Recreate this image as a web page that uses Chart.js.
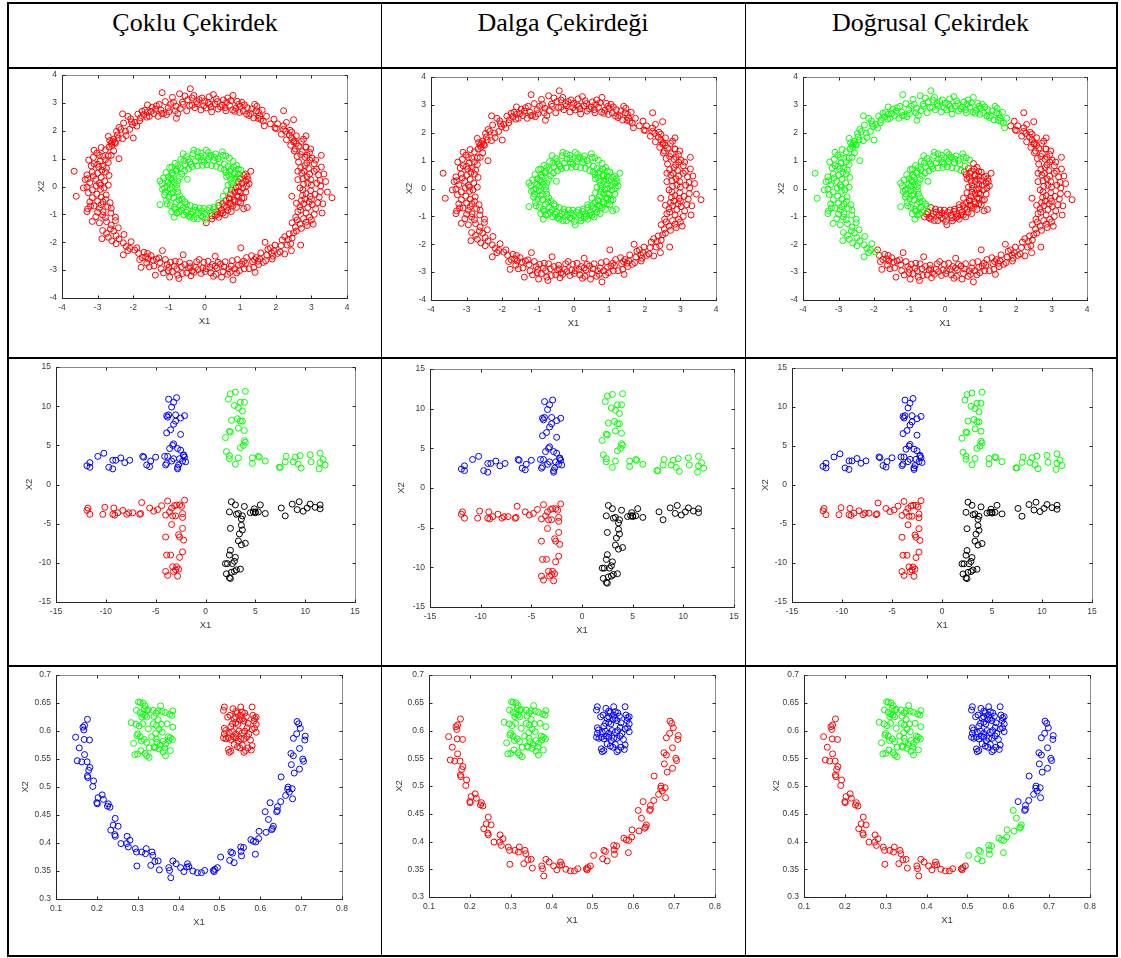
<!DOCTYPE html>
<html>
<head>
<meta charset="utf-8">
<script src="https://cdn.jsdelivr.net/npm/chart.js@4.4.1/dist/chart.umd.min.js"></script>
<style>
  html, body { margin: 0; padding: 0; background: #fff; }
  body { position: relative; width: 1121px; height: 958px; overflow: hidden; }
  .rule { position: absolute; background: #000; }
  .head { position: absolute; top: 10px; height: 30px; line-height: 26px; text-align: center;
          font-family: "Liberation Serif", "Times New Roman", serif; font-size: 26px; color: #000; }
  canvas { position: absolute; }
</style>
</head>
<body>
<script>
// ---------- column headings ----------
const columnTitles = ['Çoklu Çekirdek', 'Dalga Çekirdeği', 'Doğrusal Çekirdek'];

// ---------- tick values ----------
const ringTicks   = [-4, -3, -2, -1, 0, 1, 2, 3, 4];
const crossTicks  = [-15, -10, -5, 0, 5, 10, 15];
const smileXTicks = [0.1, 0.2, 0.3, 0.4, 0.5, 0.6, 0.7, 0.8];
const smileYTicks = [0.3, 0.35, 0.4, 0.45, 0.5, 0.55, 0.6, 0.65, 0.7];

// ---------- two concentric rings ----------
// outer ring, upper-left arc (top -> left side -> lower-left)
const outerArcA = [
  [1.74,2.52],[1.68,2.18],[1.62,2.74],
  [1.58,2.41],[1.52,2.66],[1.47,2.88],[1.55,2.53],
  [1.38,2.46],[1.33,2.79],[1.29,2.62],[1.41,2.95],
  [1.18,2.60],[1.12,2.93],[1.09,2.71],[1.20,2.83],
  [0.98,2.66],[0.92,3.06],[0.88,2.81],[0.96,2.95],
  [0.79,2.74],[0.74,3.08],[0.70,2.92],[0.80,3.27],
  [0.58,2.83],[0.53,3.11],[0.50,2.93],[0.62,3.02],
  [0.38,2.78],[0.33,3.15],[0.29,2.97],[0.36,3.05],
  [0.18,2.86],[0.13,3.22],[0.10,3.01],[0.20,2.68],
  [-0.02,2.90],[-0.07,3.18],[-0.10,2.75],[0.00,3.06],
  [-0.22,3.05],[-0.27,2.83],[-0.30,3.27],[-0.20,2.97],
  [-0.42,2.91],[-0.47,3.12],[-0.40,3.51],[-0.50,2.72],
  [-0.62,3.03],[-0.68,2.80],[-0.70,3.33],[-0.60,2.95],
  [-0.82,2.72],[-0.87,3.02],[-0.90,3.20],[-0.79,2.45],
  [-1.02,2.83],[-1.07,2.58],[-1.10,3.05],[-1.00,2.69],
  [-1.22,2.74],[-1.27,2.95],[-1.19,3.37],[-1.30,2.52],
  [-1.42,2.62],[-1.47,2.85],[-1.50,2.70],[-1.38,2.77],
  [-1.62,2.49],[-1.67,2.74],[-1.70,2.58],[-1.60,2.93],
  [-1.82,2.36],[-1.87,2.60],[-1.90,2.17],[-1.80,2.47],
  [-2.02,2.22],[-2.07,2.43],[-2.10,2.05],[-2.00,1.74],
  [-2.22,1.99],[-2.27,2.28],[-2.30,2.61],[-2.20,1.83],
  [-2.42,1.74],[-2.47,1.98],[-2.50,1.55],[-2.40,2.12],
  [-2.58,1.62],[-2.62,1.55],[-2.55,1.70],[-2.66,1.65],[-2.60,1.48],[-2.70,1.80],[-2.52,1.58],
  [-2.78,1.32],[-2.55,1.28],[-3.02,1.20],[-2.90,1.40],
  [-2.85,1.08],[-2.62,1.12],[-3.12,1.05],[-2.40,1.00],
  [-2.93,0.92],[-2.70,0.86],[-3.25,0.95],[-3.00,0.80],
  [-2.97,0.70],[-2.75,0.66],[-3.18,0.74],[-2.88,0.58],
  [-3.00,0.48],[-2.78,0.52],[-3.30,0.42],[-3.66,0.55],[-2.90,0.33],
  [-3.05,0.26],[-2.80,0.20],[-3.28,0.28],[-2.95,0.12],
  [-3.04,0.02],[-2.82,-0.05],[-3.30,-0.02],[-3.15,-0.12],[-2.70,0.05],
  [-3.02,-0.27],[-2.76,-0.30],[-3.26,-0.22],[-3.60,-0.35],[-2.90,-0.38],
  [-3.00,-0.52],[-2.78,-0.46],[-3.22,-0.55],[-2.65,-0.58],
  [-2.95,-0.78],[-2.72,-0.72],[-3.28,-0.80],[-3.10,-0.70],[-2.85,-0.90],
  [-2.86,-1.02],[-2.63,-0.95],[-3.05,-1.08],[-2.50,-1.10],
  [-2.75,-1.26],[-2.50,-1.22],[-2.95,-1.30],[-2.62,-1.38],
  [-2.64,-1.52],[-2.42,-1.48],[-2.86,-1.58],[-2.75,-1.68],
  [-2.48,-1.76],[-2.26,-1.72],[-2.70,-1.82],[-2.88,-1.87],
  [-2.28,-2.02],[-2.06,-1.98],[-2.48,-2.05],[-2.20,-2.15],
  [-2.10,-2.22],[-1.96,-2.28],[-2.28,-2.45],
  [1.65,2.35],[1.45,2.72],[1.25,2.55],[1.05,3.02],[0.85,2.70],[0.65,3.18],[0.45,2.86],[0.25,3.30],
  [0.05,2.82],[-0.15,3.12],[-0.35,2.92],[-0.55,3.25],[-0.75,2.62],[-0.95,2.95],[-1.15,2.62],[-1.35,2.90],
  [-1.55,2.52],[-1.75,2.70],[-1.95,2.30],[-2.15,2.52],[-2.35,2.05],[-2.45,1.85],
  [1.50,2.45],[1.00,2.88],[0.60,2.72],[0.15,2.95],[-0.35,3.18],[-0.80,2.88],[-1.20,2.62],[-1.60,2.66],
  [-2.05,2.32],[-2.30,1.72],
  [-2.68,1.42],[-2.95,1.12],[-2.78,0.96],[-3.10,0.82],[-2.85,0.72],[-3.15,0.52],[-2.68,0.40],[-3.22,0.14],
  [-2.92,-0.10],[-3.40,-0.05],[-2.85,-0.55],[-3.15,-0.40],[-2.62,-0.78],[-3.00,-0.92],[-2.78,-1.12],
  [-3.15,-1.25],[-2.55,-1.60],[-2.40,-1.88],[-2.60,-1.95],[-2.15,-2.30],[-3.20,-0.70],[-3.35,0.25],
  [-3.10,1.30],[-2.70,1.10],[-3.30,-0.90],[-2.92,0.05],[-3.12,0.38],[-2.90,-0.65]
];
// outer ring, lower-right arc (bottom -> right side -> upper-right)
const outerArcB = [
  [-1.85,-2.40],[-1.82,-2.62],[-1.90,-2.20],[-1.78,-2.90],
  [-1.65,-2.52],[-1.62,-2.75],[-1.70,-2.36],[-1.58,-2.60],
  [-1.45,-2.64],[-1.42,-2.85],[-1.50,-2.48],[-1.38,-3.18],
  [-1.25,-2.73],[-1.22,-2.95],[-1.28,-2.56],[-1.18,-2.30],
  [-1.05,-2.80],[-1.02,-3.02],[-1.10,-2.62],[-0.98,-3.25],
  [-0.85,-2.86],[-0.82,-2.68],[-0.90,-3.05],[-0.78,-2.95],
  [-0.65,-2.88],[-0.62,-3.12],[-0.70,-2.70],[-0.60,-2.45],[-0.72,-3.30],
  [-0.45,-2.92],[-0.42,-2.75],[-0.50,-3.10],[-0.38,-3.20],
  [-0.25,-2.90],[-0.22,-2.70],[-0.30,-3.08],[-0.18,-2.98],
  [-0.05,-2.92],[-0.02,-2.72],[-0.10,-3.12],[0.02,-3.05],
  [0.15,-2.90],[0.18,-3.10],[0.10,-2.68],[0.22,-2.80],
  [0.35,-2.92],[0.32,-3.15],[0.38,-2.72],[0.30,-2.50],
  [0.55,-2.88],[0.52,-3.05],[0.58,-2.70],[0.48,-3.25],
  [0.75,-2.85],[0.72,-3.08],[0.78,-2.66],[0.80,-3.35],[0.68,-2.95],
  [0.95,-2.83],[0.92,-2.62],[0.98,-3.02],[1.02,-2.20],
  [1.15,-2.76],[1.12,-2.95],[1.18,-2.55],[1.10,-2.68],
  [1.35,-2.70],[1.32,-2.48],[1.38,-2.90],[1.42,-3.08],
  [1.55,-2.60],[1.52,-2.80],[1.58,-2.38],[1.50,-2.68],
  [1.75,-2.46],[1.72,-2.66],[1.78,-2.25],[1.70,-2.00],
  [1.95,-2.30],[1.92,-2.50],[1.98,-2.10],[1.88,-2.38],
  [2.15,-2.12],[2.12,-2.35],[2.18,-1.92],[2.25,-2.42],
  [2.35,-1.90],[2.32,-2.10],[2.38,-1.70],[2.44,-2.30],
  [2.50,-1.66],[2.46,-1.85],[2.55,-1.45],[2.70,-2.10],
  [2.68,-1.35],[2.46,-1.30],[2.88,-1.40],[2.60,-1.20],
  [2.78,-1.15],[2.56,-1.10],[3.00,-1.20],[2.85,-1.28],
  [2.85,-0.95],[2.62,-0.90],[3.08,-1.00],[3.30,-0.95],
  [2.90,-0.75],[2.68,-0.72],[3.12,-0.80],[2.78,-0.62],
  [2.94,-0.55],[2.72,-0.50],[3.18,-0.58],[3.32,-0.62],
  [2.97,-0.35],[2.75,-0.32],[3.22,-0.38],[3.58,-0.40],[2.45,-0.35],
  [2.98,-0.15],[2.76,-0.12],[3.25,-0.18],[2.85,-0.25],
  [3.00,0.05],[2.78,0.08],[3.26,0.02],[2.62,0.25],[2.90,0.12],
  [2.98,0.25],[2.76,0.28],[3.24,0.22],[3.40,0.18],
  [2.95,0.45],[2.73,0.48],[3.20,0.42],[3.08,0.55],
  [2.92,0.65],[2.70,0.68],[3.14,0.62],[2.80,0.55],
  [2.87,0.85],[2.64,0.88],[3.08,0.82],[2.95,0.95],
  [2.82,1.05],[2.60,1.08],[3.02,1.02],[3.28,1.12],
  [2.74,1.25],[2.52,1.28],[2.95,1.22],[2.85,1.42],
  [2.64,1.45],[2.42,1.48],[2.84,1.42],[2.50,1.60],
  [2.52,1.65],[2.30,1.68],[2.72,1.62],[2.85,1.82],
  [2.38,1.85],[2.16,1.88],[2.58,1.82],[2.45,1.95],
  [2.22,2.05],[2.02,2.08],[2.40,2.02],[2.50,2.40],
  [2.05,2.25],[1.85,2.25],[2.22,2.18],[2.22,2.72],[1.95,2.42],
  [-1.75,-2.55],[-1.55,-2.88],[-1.35,-2.60],[-1.15,-3.10],[-0.95,-2.72],[-0.75,-3.18],[-0.55,-2.80],
  [-0.35,-3.02],[-0.15,-2.62],[0.05,-2.95],[0.25,-3.22],[0.45,-2.78],[0.65,-3.15],[0.85,-2.95],
  [1.05,-2.78],[1.25,-2.95],[1.45,-2.55],[1.65,-2.72],[1.85,-2.20],[2.05,-2.40],[2.25,-1.80],
  [2.42,-2.05],[2.58,-1.60],[-1.60,-2.40],[-1.00,-2.90],[-0.40,-2.88],[0.30,-2.85],[0.90,-3.10],
  [1.40,-2.62],[1.90,-2.60],
  [2.72,-1.50],[2.95,-1.10],[2.70,-0.85],[3.02,-0.65],[2.82,-0.45],[3.10,-0.28],[2.68,-0.05],
  [3.15,0.12],[2.88,0.35],[3.35,0.45],[2.82,0.75],[3.12,0.95],[2.70,1.15],[2.98,1.35],[2.58,1.55],
  [2.78,1.70],[2.45,1.75],[2.28,1.98],[2.30,2.30],[1.98,2.10],[3.45,-0.20],[3.05,-1.35],[2.58,-0.60],
  [2.62,0.55],[3.28,0.70],[3.00,-0.45],[2.88,1.12],[2.55,1.35]
];
// inner ring, upper-left half
const innerArcA = [
  [0.56,0.80],[0.70,1.02],[0.45,0.65],
  [0.42,0.89],[0.52,1.12],[0.33,0.72],[0.50,1.25],
  [0.26,0.93],[0.31,1.17],[0.20,0.75],[0.28,1.05],
  [0.09,0.97],[0.11,1.22],[0.07,0.78],[0.12,1.08],
  [-0.08,0.95],[-0.10,1.20],[-0.06,0.76],[-0.10,1.08],
  [-0.25,0.92],[-0.32,1.18],[-0.20,0.74],[-0.30,1.30],
  [-0.41,0.88],[-0.50,1.08],[-0.34,0.71],[-0.46,0.97],
  [-0.55,0.78],[-0.67,0.97],[-0.45,0.63],[-0.60,1.18],
  [-0.68,0.68],[-0.83,0.83],[-0.56,0.56],[-0.75,0.75],
  [-0.80,0.56],[-0.98,0.68],[-0.64,0.45],[-0.90,0.48],
  [-0.88,0.41],[-1.08,0.50],[-0.70,0.33],[-0.95,0.30],
  [-0.93,0.25],[-1.15,0.31],[-0.75,0.20],[-1.02,0.15],
  [-0.96,0.08],[-1.20,0.10],[-0.78,0.07],[-1.05,0.00],
  [-0.96,-0.08],[-1.18,-0.10],[-0.77,-0.07],[-1.10,-0.20],
  [-0.93,-0.25],[-1.12,-0.30],[-0.75,-0.20],[-1.00,-0.38],
  [-0.87,-0.41],[-1.07,-0.50],[-0.70,-0.33],[-1.25,-0.65],
  [-0.79,-0.56],[-0.96,-0.68],[-0.63,-0.45],[-0.85,-0.75],
  [-0.68,-0.68],[-0.82,-0.82],[-0.55,-0.55],[-0.78,-0.95],[-0.85,-1.10],
  [-0.60,-0.76],[-0.72,-0.92],[-0.50,-0.64],
  [-0.48,0.26],
  [0.38,1.00],[0.18,1.12],[-0.02,0.88],[-0.18,1.05],[-0.38,0.80],[-0.58,0.92],[-0.78,0.62],
  [-0.92,0.70],[-1.02,0.35],[-0.85,0.15],[-1.12,-0.05],[-0.88,-0.18],[-1.05,-0.62],[-0.72,-0.48],
  [-0.92,-0.90],[-0.65,-0.85],[0.60,1.10],[0.05,1.30],[-0.20,1.25],[-1.25,0.20]
];
// inner ring, lower-right half, inner side
const innerArcB = [
  [-0.48,-0.84],[-0.58,-1.02],[-0.40,-0.68],[-0.52,-0.92],
  [-0.33,-0.90],[-0.40,-1.10],[-0.27,-0.74],[-0.38,-1.00],
  [-0.17,-0.95],[-0.20,-1.15],[-0.14,-0.77],[-0.10,-1.05],
  [0.00,-0.97],[0.02,-1.18],[-0.02,-0.78],[-0.05,-1.08],
  [0.17,-0.95],[0.14,-0.77],[0.27,-0.74],[0.40,-0.58],
  [0.52,-0.35],[0.62,-0.15],[0.66,0.05],[0.77,0.00],[0.76,0.13],
  [0.91,0.33],[0.73,0.27],[0.85,0.45],
  [0.84,0.49],[1.02,0.59],[0.68,0.40],
  [0.74,0.62],[0.90,0.76],[0.60,0.50],[0.95,0.62],
  [0.66,0.72],[0.80,0.90],[0.55,0.60],
  [-0.45,-1.05],[-0.25,-0.85],[-0.08,-0.88],[0.08,-0.85],[-0.30,-1.15],[0.25,-0.82],
  [0.70,0.55],[0.82,0.70],[0.95,0.45],[0.62,0.35],[0.85,0.25]
];
// inner ring, lower-right half, outer side
const innerArcC = [
  [0.05,-1.30],[0.21,-1.16],[0.20,-1.05],
  [0.33,-0.91],[0.40,-1.10],[0.36,-1.00],
  [0.48,-0.84],[0.58,-1.02],[0.40,-0.68],[0.52,-0.95],
  [0.62,-0.74],[0.75,-0.90],[0.51,-0.61],[0.70,-0.60],
  [0.74,-0.62],[0.90,-0.75],[0.60,-0.50],[0.85,-0.55],[1.10,-0.80],
  [0.84,-0.48],[1.02,-0.58],[0.68,-0.40],[0.95,-0.35],
  [0.91,-0.33],[1.11,-0.40],[0.73,-0.27],[1.00,-0.20],
  [0.95,-0.17],[1.16,-0.20],[0.76,-0.13],[1.20,-0.75],
  [0.96,0.00],[1.18,0.02],[1.05,0.12],
  [0.95,0.17],[1.16,0.20],[1.25,0.10],
  [1.10,0.40],[1.30,0.55],[1.20,0.35],
  [0.30,-1.05],[0.45,-0.95],[0.65,-0.85],[0.80,-0.68],[0.95,-0.55],[1.05,-0.42],[0.85,-0.20],
  [1.08,-0.05],[1.00,0.28],[1.22,0.25],[0.70,-0.45],[0.55,-0.72],[1.15,0.45],[0.88,-0.05]
];

// ---------- four crosses ----------
const crossTopLeft = [
  [-11.9,2.4],[-11.6,2.8],[-11.6,2.2],[-10.8,3.6],[-10.2,4.0],[-9.7,2.2],[-9.3,2.0],[-9.3,3.1],
  [-9.0,3.1],[-8.5,3.4],[-8.1,2.8],[-7.6,3.1],[-6.3,3.6],[-6.2,3.5],[-5.9,2.5],[-5.6,2.3],
  [-5.5,3.0],[-5.0,3.5],[-4.1,3.6],[-4.0,2.5],[-3.9,2.7],[-3.8,3.6],[-3.4,3.0],
  [-3.7,10.9],[-2.9,11.1],[-3.2,10.5],[-3.4,9.9],[-3.8,8.6],[-3.9,8.8],[-3.7,8.9],[-3.0,8.9],
  [-2.5,8.5],[-2.1,8.8],[-3.2,7.7],[-3.0,8.1],[-3.5,7.0],[-3.9,6.6],[-2.5,6.4],[-3.6,4.6],
  [-3.3,5.0],[-3.2,5.2],[-2.8,4.6],[-2.5,4.4],[-2.2,3.8],[-2.1,3.5],[-2.2,3.7],[-2.3,3.0],
  [-2.0,2.9],[-2.7,2.5],[-2.8,2.2],[-2.8,2.0],[-3.2,3.3],[-2.6,3.3]
];
const crossTopRight = [
  [2.5,11.6],[3.0,11.8],[4.0,11.9],[2.3,10.9],[3.5,10.5],[3.9,10.5],[2.9,10.1],[3.3,9.8],
  [3.7,9.4],[3.2,8.4],[3.5,8.1],[2.6,8.2],[3.7,8.1],[3.3,7.2],[3.9,6.9],[2.4,6.8],
  [2.5,6.7],[2.0,6.0],[3.9,5.6],[4.0,5.4],[3.5,4.7],[3.8,5.0],[2.1,4.2],[2.4,3.7],
  [2.4,3.3],[3.3,3.4],[3.0,2.6],
  [4.7,3.4],[4.7,2.7],[5.3,3.6],[5.4,3.5],[6.0,3.0],[7.4,2.2],[7.5,2.2],[8.0,2.9],
  [8.1,3.6],[8.8,2.9],[9.0,3.5],[9.3,2.6],[9.5,3.7],[9.6,2.1],[10.5,3.8],[10.6,2.9],
  [11.5,4.0],[11.4,2.0],[11.5,2.8],[11.8,3.2],[12.0,2.5]
];
const crossBottomLeft = [
  [-11.9,-3.3],[-11.8,-3.0],[-11.6,-3.8],[-10.3,-3.8],[-10.1,-2.9],[-9.3,-3.8],[-9.2,-3.0],
  [-9.1,-3.9],[-8.8,-3.6],[-8.3,-3.3],[-7.9,-3.8],[-7.7,-3.6],[-7.3,-3.6],[-6.6,-3.8],
  [-6.5,-3.7],[-6.4,-2.3],[-5.6,-3.0],[-5.2,-3.4],[-4.8,-3.2],[-4.4,-2.7],[-4.0,-3.9],
  [-3.8,-2.1],[-3.6,-3.5],[-3.4,-3.0],[-3.3,-4.0],[-3.1,-2.7],[-2.9,-2.6],[-2.6,-2.6],
  [-2.4,-2.8],[-2.1,-2.0],[-2.3,-3.7],[-2.3,-4.2],[-3.0,-4.0],
  [-3.4,-5.1],[-2.3,-5.6],[-2.7,-6.4],[-2.6,-6.7],[-4.0,-6.7],[-2.2,-7.1],[-3.9,-9.0],
  [-3.5,-9.0],[-2.3,-8.6],[-2.6,-9.3],[-3.3,-10.5],[-2.9,-10.5],[-2.7,-10.8],[-4.0,-11.1],
  [-3.8,-11.6],[-3.2,-11.1],[-3.0,-10.9],[-2.8,-11.7]
];
const crossBottomRight = [
  [2.6,-2.2],[3.0,-2.6],[3.9,-2.8],[2.4,-3.5],[3.1,-3.8],[3.3,-3.7],[3.7,-4.0],[3.6,-4.4],
  [3.6,-5.2],[2.5,-5.6],[3.7,-5.8],[3.4,-6.3],[3.3,-7.2],[4.0,-7.5],[3.6,-7.7],[2.5,-8.4],
  [2.4,-9.0],[3.0,-9.3],[2.9,-9.8],[2.2,-10.1],[2.0,-10.1],[2.7,-10.1],[3.1,-10.9],[3.5,-10.8],
  [2.9,-11.1],[2.1,-11.4],[2.6,-11.2],[2.4,-11.9],[2.5,-12.0],
  [4.5,-3.6],[4.9,-3.1],[5.0,-3.5],[5.3,-3.5],[5.5,-2.6],[5.0,-3.6],[6.0,-3.7],[7.6,-3.0],
  [8.0,-4.0],[8.7,-2.5],[9.2,-3.2],[9.4,-2.2],[9.8,-3.4],[10.2,-3.0],[10.5,-2.5],[11.0,-2.9],
  [11.5,-3.1],[11.5,-2.6],[4.8,-3.5]
];

// ---------- smiley ----------
const mouthLeft = [
  [0.148,0.589],[0.157,0.570],[0.152,0.547],[0.163,0.545],[0.166,0.607],[0.170,0.610],[0.168,0.602],
  [0.169,0.585],[0.177,0.621],[0.182,0.584],[0.170,0.558],[0.176,0.545],[0.180,0.530],[0.183,0.535],
  [0.177,0.520],[0.178,0.517],[0.192,0.511],[0.190,0.501],[0.200,0.472],[0.201,0.470],[0.203,0.481],
  [0.213,0.486],[0.216,0.478],[0.226,0.466],[0.228,0.470],[0.232,0.464],[0.234,0.423],[0.240,0.432],
  [0.245,0.444],[0.244,0.415],[0.245,0.412],[0.252,0.430],[0.259,0.399],[0.273,0.399],[0.274,0.412],
  [0.277,0.393],[0.281,0.405],[0.294,0.390],[0.297,0.384],[0.298,0.359],[0.310,0.384],[0.321,0.390],
  [0.319,0.381],[0.335,0.384],[0.337,0.378],[0.332,0.360],[0.342,0.367],[0.350,0.368],[0.353,0.352],
  [0.376,0.356],[0.378,0.351],[0.381,0.338],[0.386,0.368],[0.394,0.363],[0.405,0.356],[0.413,0.349],
  [0.422,0.363],[0.420,0.357],[0.425,0.358],[0.435,0.350],[0.446,0.347],[0.456,0.347],[0.464,0.351],
  [0.485,0.351],[0.487,0.349],[0.489,0.353],[0.495,0.356]
];
const mouthMiddle = [
  [0.503,0.375],[0.525,0.369],[0.528,0.384],[0.532,0.382],[0.536,0.365],[0.552,0.393],[0.553,0.385],
  [0.554,0.377],[0.559,0.392],[0.577,0.406],[0.583,0.403],[0.588,0.380],[0.589,0.402],[0.596,0.408],
  [0.597,0.421],[0.614,0.419],[0.612,0.456],[0.620,0.442],[0.628,0.424],[0.632,0.430],[0.630,0.426]
];
const mouthRight = [
  [0.624,0.472],[0.640,0.456],[0.642,0.465],[0.642,0.458],[0.650,0.474],[0.651,0.518],[0.662,0.485],
  [0.667,0.496],[0.668,0.500],[0.671,0.491],[0.678,0.497],[0.679,0.479],[0.676,0.540],[0.675,0.560],
  [0.681,0.556],[0.683,0.525],[0.681,0.587],[0.689,0.595],[0.696,0.532],[0.696,0.569],[0.690,0.617],
  [0.694,0.613],[0.698,0.605],[0.704,0.550],[0.706,0.546],[0.709,0.584],[0.710,0.591]
];
const eyeLeft = [
  [0.302,0.652],[0.306,0.651],[0.313,0.650],[0.318,0.645],[0.297,0.637],[0.306,0.633],[0.316,0.640],
  [0.322,0.637],[0.326,0.638],[0.312,0.630],[0.318,0.628],[0.322,0.625],[0.310,0.625],[0.338,0.637],
  [0.345,0.632],[0.350,0.636],[0.356,0.645],[0.360,0.635],[0.368,0.633],[0.378,0.630],[0.386,0.636],
  [0.384,0.628],[0.340,0.626],[0.284,0.615],[0.296,0.612],[0.303,0.609],[0.312,0.613],[0.338,0.613],
  [0.346,0.610],[0.358,0.612],[0.372,0.613],[0.386,0.607],[0.326,0.604],[0.352,0.603],[0.360,0.598],
  [0.344,0.596],[0.300,0.595],[0.306,0.590],[0.298,0.592],[0.316,0.585],[0.322,0.580],[0.309,0.582],
  [0.290,0.578],[0.345,0.586],[0.347,0.580],[0.355,0.575],[0.362,0.582],[0.368,0.577],[0.375,0.590],
  [0.380,0.588],[0.385,0.585],[0.376,0.583],[0.328,0.570],[0.340,0.572],[0.352,0.568],[0.362,0.563],
  [0.366,0.570],[0.380,0.565],[0.293,0.558],[0.300,0.559],[0.308,0.565],[0.318,0.560],[0.322,0.556],
  [0.328,0.553],[0.368,0.556],[0.342,0.570],[0.334,0.590],[0.350,0.620]
];
const eyeRight = [
  [0.512,0.643],[0.510,0.637],[0.520,0.625],[0.526,0.628],[0.533,0.640],[0.540,0.635],[0.544,0.632],
  [0.552,0.643],[0.556,0.634],[0.562,0.632],[0.566,0.626],[0.580,0.643],[0.582,0.628],[0.586,0.623],
  [0.590,0.625],[0.585,0.618],[0.532,0.613],[0.540,0.615],[0.545,0.612],[0.550,0.620],[0.556,0.622],
  [0.560,0.618],[0.570,0.614],[0.512,0.605],[0.515,0.601],[0.512,0.595],[0.524,0.597],[0.532,0.599],
  [0.540,0.595],[0.548,0.600],[0.556,0.597],[0.562,0.600],[0.572,0.595],[0.580,0.603],[0.586,0.605],
  [0.590,0.612],[0.590,0.598],[0.510,0.588],[0.516,0.586],[0.522,0.588],[0.528,0.585],[0.534,0.590],
  [0.540,0.588],[0.546,0.582],[0.552,0.586],[0.560,0.586],[0.568,0.590],[0.576,0.584],[0.522,0.567],
  [0.524,0.562],[0.528,0.564],[0.536,0.576],[0.544,0.572],[0.550,0.570],[0.556,0.575],[0.560,0.562],
  [0.564,0.565],[0.570,0.570],[0.578,0.566],[0.580,0.574],[0.552,0.628],[0.540,0.625],[0.536,0.622],
  [0.568,0.606],[0.528,0.608]
];

// ---------- cluster colour of every group, per column ----------
const ringGroups  = [outerArcA, outerArcB, innerArcA, innerArcB, innerArcC];
const ringLabels  = [['r','r','g','g','r'], ['r','r','g','g','g'], ['g','r','g','r','r']];
const crossGroups = [crossTopLeft, crossTopRight, crossBottomLeft, crossBottomRight];
const crossLabels = [['b','g','r','k'], ['b','g','r','k'], ['b','g','r','k']];
const smileGroups = [mouthLeft, mouthMiddle, mouthRight, eyeLeft, eyeRight];
const smileLabels = [['b','b','b','g','r'], ['r','r','r','g','b'], ['r','g','b','g','b']];

const COLOURS = { r: '#ff0000', g: '#00ff00', b: '#0000ff', k: '#000000' };
const TXT = '#3a3a3a';
const FONT = '"Liberation Sans", Arial, Helvetica, sans-serif';

// ---------- table frame ----------
const rules = [
  [7, 2, 1111, 2], [7, 67, 1111, 2], [7, 357, 1111, 2], [7, 665, 1111, 2], [7, 955, 1111, 2],
  [7, 2, 2, 955], [1116, 2, 2, 955], [381, 2, 1, 955], [745, 2, 1, 955]
];
rules.forEach(([x, y, w, h]) => {
  const d = document.createElement('div');
  d.className = 'rule';
  d.style.cssText = `left:${x}px;top:${y}px;width:${w}px;height:${h}px`;
  document.body.appendChild(d);
});
const colEdges = [9, 381, 745, 1116];
columnTitles.forEach((t, i) => {
  const d = document.createElement('div');
  d.className = 'head';
  d.style.left = colEdges[i] + 'px';
  d.style.width = (colEdges[i + 1] - colEdges[i]) + 'px';
  d.textContent = t;
  document.body.appendChild(d);
});

// ---------- axes box with inward ticks on all four sides ----------
const boxPlugin = {
  id: 'boxAxes',
  beforeDatasetsDraw(chart) {
    const { ctx, chartArea: a, scales: { x, y } } = chart;
    const l = Math.round(a.left) + 0.5, r = Math.round(a.right) + 0.5;
    const t = Math.round(a.top) + 0.5, b = Math.round(a.bottom) + 0.5;
    const tl = 3;
    ctx.save();
    ctx.lineWidth = 1;
    ctx.strokeStyle = '#8a8a8a';
    ctx.beginPath();
    ctx.moveTo(l, t); ctx.lineTo(r, t); ctx.lineTo(r, b);
    ctx.stroke();
    ctx.strokeStyle = '#262626';
    ctx.beginPath();
    ctx.moveTo(l, t); ctx.lineTo(l, b); ctx.lineTo(r, b);
    x.ticks.forEach(tk => {
      const px = Math.round(x.getPixelForValue(tk.value)) + 0.5;
      ctx.moveTo(px, b); ctx.lineTo(px, b - tl);
      ctx.moveTo(px, t); ctx.lineTo(px, t + tl);
    });
    y.ticks.forEach(tk => {
      const py = Math.round(y.getPixelForValue(tk.value)) + 0.5;
      ctx.moveTo(l, py); ctx.lineTo(l + tl, py);
      ctx.moveTo(r, py); ctx.lineTo(r - tl, py);
    });
    ctx.stroke();
    ctx.restore();
  }
};

function fmtTick(v) { return String(+Number(v).toFixed(2)); }

function axis(min, max, ticks, title, fit) {
  return {
    type: 'linear', min, max,
    afterBuildTicks: s => { s.ticks = ticks.map(v => ({ value: v })); },
    afterFit: fit,
    grid: { display: false, drawTicks: false },
    border: { display: false },
    ticks: { padding: 5, autoSkip: false, maxRotation: 0, color: TXT,
             font: { family: FONT, size: 8.5 }, callback: v => fmtTick(v) },
    title: { display: true, text: title, color: TXT, padding: 0,
             font: { family: FONT, size: 9.5 } }
  };
}

// plot areas [left, top, right, bottom] and distance of the X2 label from the left axis
const plotRects = [
  [[62, 73, 347, 298], [431, 75, 716, 300], [803, 75, 1087, 300]],
  [[56, 365, 355, 602], [430, 367, 734, 607], [792, 366, 1092, 602]],
  [[56, 673, 342, 899], [429, 673, 715, 897], [804, 673, 1090, 897]]
];
const yTitleGap = [[20, 21, 21], [26, 28, 26], [30, 29, 27]];

function makePlot(rect, gap, groups, labels, xr, yr, xt, yt) {
  const [L, T, R, B] = rect;
  const padT = 8, padR = 14, xH = 29, yW = gap + 6;
  const w = yW + (R - L) + padR, h = padT + (B - T) + xH;
  const cv = document.createElement('canvas');
  cv.width = w; cv.height = h;
  cv.style.cssText = `left:${L - yW}px;top:${T - padT}px;width:${w}px;height:${h}px`;
  document.body.appendChild(cv);
  new Chart(cv, {
    type: 'scatter',
    data: {
      datasets: groups.map((g, i) => ({
        data: g,
        borderColor: COLOURS[labels[i]],
        backgroundColor: 'rgba(0,0,0,0)',
        pointRadius: 3, pointHoverRadius: 3, pointBorderWidth: 1
      }))
    },
    options: {
      responsive: false, animation: false, devicePixelRatio: 1, events: [],
      layout: { padding: { left: 0, top: padT, right: padR, bottom: 0 } },
      plugins: { legend: { display: false }, tooltip: { enabled: false } },
      scales: {
        x: axis(xr[0], xr[1], xt, 'X1', s => { s.height = xH; }),
        y: axis(yr[0], yr[1], yt, 'X2', s => { s.width = yW; })
      }
    },
    plugins: [boxPlugin]
  });
}

for (let c = 0; c < 3; c++) {
  makePlot(plotRects[0][c], yTitleGap[0][c], ringGroups, ringLabels[c], [-4, 4], [-4, 4], ringTicks, ringTicks);
  makePlot(plotRects[1][c], yTitleGap[1][c], crossGroups, crossLabels[c], [-15, 15], [-15, 15], crossTicks, crossTicks);
  makePlot(plotRects[2][c], yTitleGap[2][c], smileGroups, smileLabels[c], [0.1, 0.8], [0.3, 0.7], smileXTicks, smileYTicks);
}
</script>
</body>
</html>
